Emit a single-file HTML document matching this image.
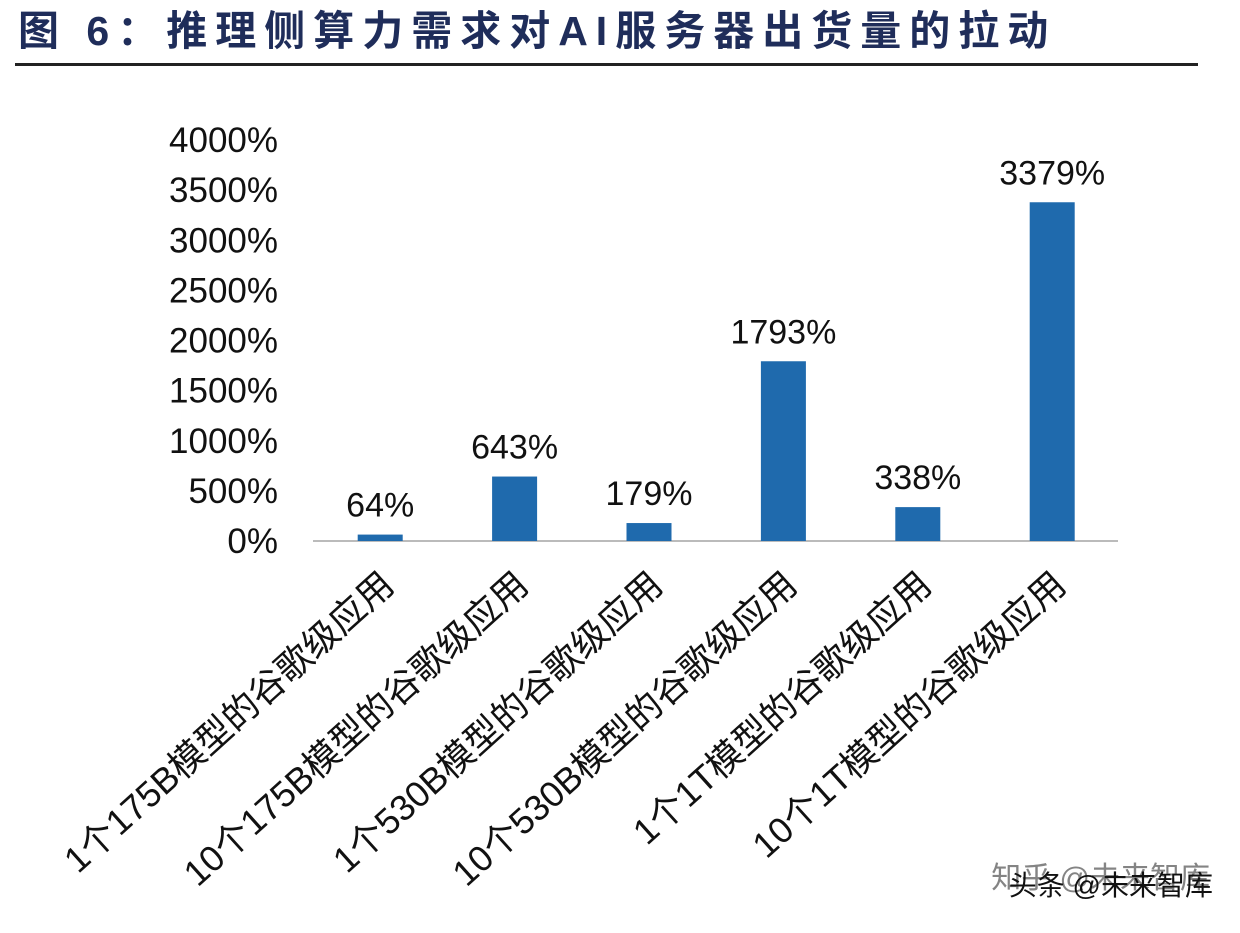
<!DOCTYPE html>
<html><head><meta charset="utf-8"><style>
body{margin:0;background:#fff;width:1240px;height:928px;overflow:hidden;font-family:"Liberation Sans","Noto Sans CJK SC",sans-serif}
</style></head><body>
<svg width="1240" height="928" xmlns="http://www.w3.org/2000/svg">
<text x="18" y="45" font-size="41" font-weight="bold" fill="#1f2d5a" letter-spacing="8" font-family="Liberation Sans,Noto Sans CJK SC,sans-serif">图 6：推理侧算力需求对AI服务器出货量的拉动</text>
<rect x="15" y="63" width="1183" height="3" fill="#222"/>
<line x1="313" y1="541" x2="1118" y2="541" stroke="#bbb" stroke-width="2"/>
<g id="yt"></g><g id="bars"></g><g id="xl"></g>
<text x="1210" y="888" font-size="30" fill="#666" text-anchor="end" opacity="0.8">知乎 @未来智库</text>
<text x="1213" y="895" font-size="28" fill="#111" text-anchor="end">头条 @未来智库</text>
</svg>
<script>
const categories=["1个175B模型的谷歌级应用","10个175B模型的谷歌级应用","1个530B模型的谷歌级应用","10个530B模型的谷歌级应用","1个1T模型的谷歌级应用","10个1T模型的谷歌级应用"];
const values=[64,643,179,1793,338,3379];
const valueLabels=["64%","643%","179%","1793%","338%","3379%"];
const yTicks=[0,500,1000,1500,2000,2500,3000,3500,4000];
const NS="http://www.w3.org/2000/svg";
const y0=541,yTop=140,yMax=4000;
const y=v=>y0-(v/yMax)*(y0-yTop);
const x0=313,step=134.4;
const x=i=>x0+step*(i+0.5);
function mk(t,a,txt){const e=document.createElementNS(NS,t);for(const k in a)e.setAttribute(k,a[k]);if(txt!=null)e.textContent=txt;return e;}
const yt=document.getElementById('yt');
yTicks.forEach(v=>{const e=mk('text',{x:278,y:y(v)+12,'font-size':35,'text-anchor':'end',fill:'#111'},v+'%');


yt.appendChild(e);});
const bg=document.getElementById('bars'),xl=document.getElementById('xl');
values.forEach((v,i)=>{
const r=mk('rect',{x:x(i)-22.5,y:y(v),width:45,height:y0-y(v),fill:'#1f6aad'});


bg.appendChild(r);
const t=mk('text',{x:x(i),y:y(v)-18,'font-size':34,'text-anchor':'middle',fill:'#111'},valueLabels[i]);


bg.appendChild(t);
const c=mk('text',{x:0,y:0,'font-size':36,'text-anchor':'end',fill:'#111',transform:`translate(${x(i)+16},${588}) rotate(-42)`},categories[i]);


xl.appendChild(c);
});
</script>
</body></html>
